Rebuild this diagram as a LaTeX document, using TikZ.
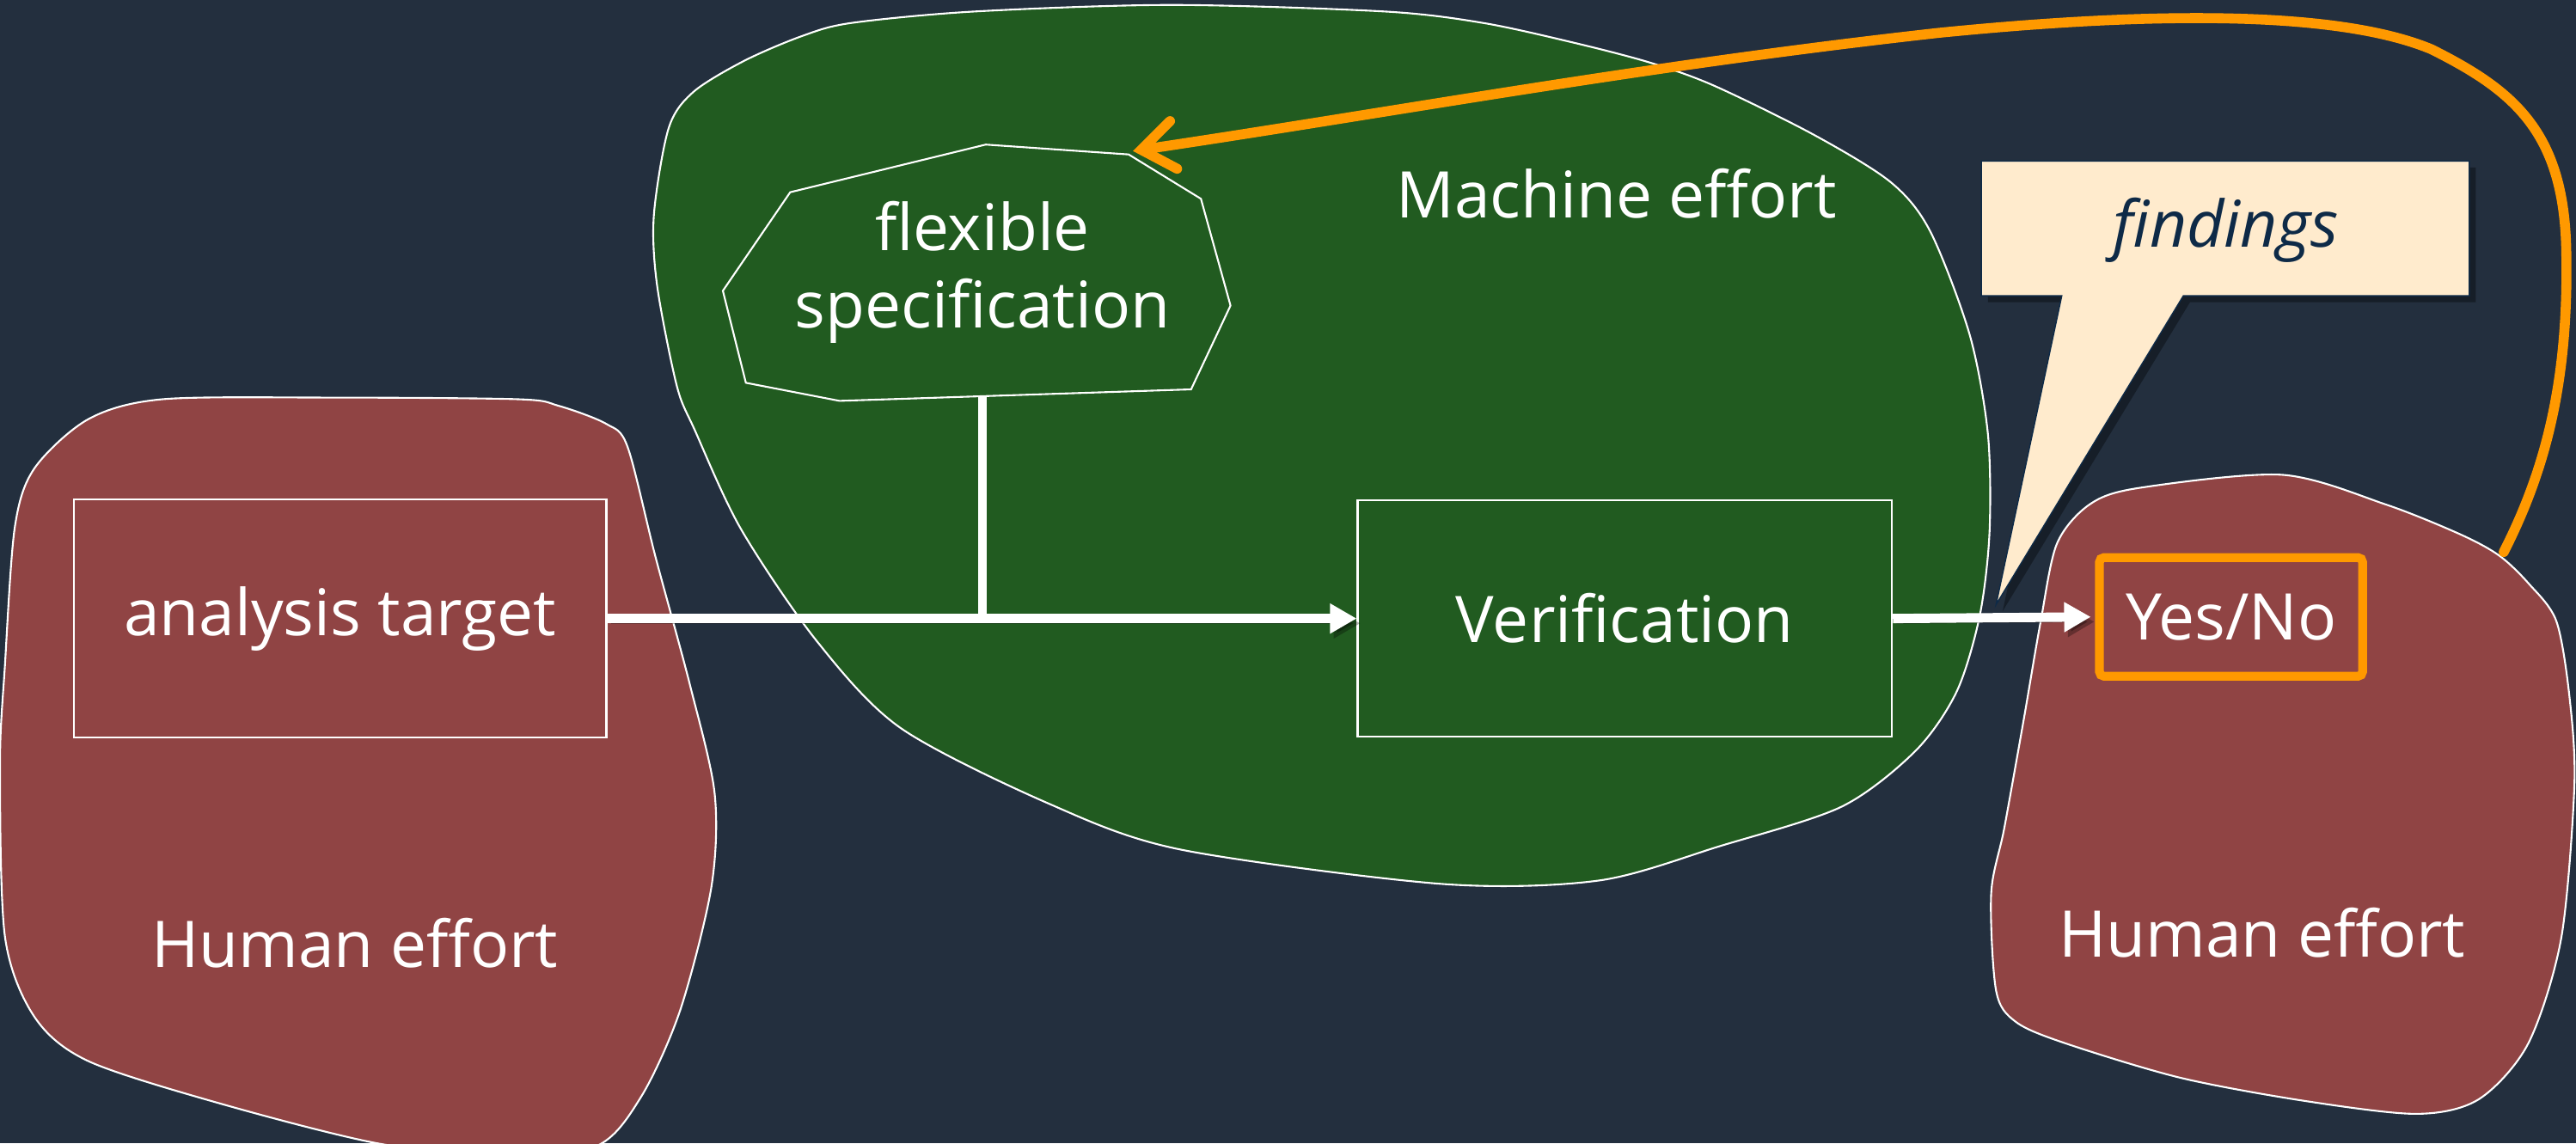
\documentclass[tikz,border=0pt]{standalone}
\usepackage{fontspec}
\setmainfont{Open Sans}
\usetikzlibrary{arrows.meta}
\definecolor{bg}{HTML}{232F3E}
\definecolor{mgreen}{HTML}{215B20}
\definecolor{hred}{HTML}{904444}
\definecolor{callfill}{HTML}{FFEBCD}
\definecolor{callink}{HTML}{0E2A47}
\definecolor{aorange}{HTML}{FF9900}
\begin{document}
\begin{tikzpicture}[x=0.01911cm,y=-0.01911cm,
  blob/.style={draw=white, line width=0.6pt, line join=round},
  boxnode/.style={draw=white, line width=0.7pt, text=white, font=\fontsize{21.3}{25.6}\selectfont, inner sep=0pt},
  lbl/.style={text=white, font=\fontsize{21.3}{25.6}\selectfont, inner sep=0pt},
  conn/.style={draw=white, line width=3.1pt, preaction={draw=black, opacity=0.3, transform canvas={shift={(1.2pt,-1.6pt)}}}},
  flow/.style={conn, -{Triangle[length=0.31cm,width=0.33cm]}},
  fb/.style={draw=aorange, line width=3.3pt, line cap=round, -{Straight Barb[length=0.38cm,width=0.56cm,line cap=round]}}
]
\useasboundingbox (0,0) rectangle (1568,696);
\clip (0,0) rectangle (1568,696);
\fill[bg] (0,0) rectangle (1568,696);

% blobs
\draw[blob, fill=hred] plot[smooth cycle, tension=0.5] coordinates {
 (99,243) (200,242) (315,243) (340,247) (369,258) (382,272) (399,339) (420,417)
 (435,483) (433,540) (414,615) (390,668) (362,698) (300,702) (230,696) (135,672)
 (54,646) (21,619) (3,570) (0,465) (3,405) (9,321) (21,285) (54,255)};

\draw[blob, fill=mgreen] plot[smooth cycle, tension=0.5] coordinates {
 (593,7) (713,3) (843,7) (903,14) (958,26) (1004,38) (1043,52) (1104,82) (1151,111)
 (1175,141) (1199,204) (1210,264) (1211,324) (1205,375) (1191,421) (1166,457)
 (1121,491) (1047,515) (973,536) (877,538) (718,517) (638,489) (548,443) (497,390)
 (451,322) (423,262) (412,235) (400,174) (398,131) (407,78) (422,56) (453,37) (488,22) (518,14)};

\draw[blob, fill=hred] plot[smooth cycle, tension=0.5] coordinates {
 (1389,289) (1452,307) (1497,325) (1521,338) (1539,355) (1556,378) (1564,424)
 (1567,478) (1559,571) (1539,635) (1509,669) (1471,678) (1402,670) (1327,656)
 (1257,635) (1227,622) (1215,603) (1212,544) (1220,504) (1232,437) (1242,379)
 (1252,331) (1272,307) (1302,297)};

% callout
\fill[black, opacity=0.35] (1210,102) -- (1507,102) -- (1507,184) -- (1333,184) -- (1219,372) -- (1259,184) -- (1210,184) -- cycle;
\draw[fill=callfill, draw=callink, line width=0.4pt, line join=miter]
  (1206,98) -- (1503,98) -- (1503,180) -- (1329,180) -- (1215,368) -- (1255,180) -- (1206,180) -- cycle;
\node[text=callink, font=\fontsize{21.3}{25.6}\selectfont\itshape, inner sep=0pt] (findings) at (1355,140) {findings};

% region labels
\node[lbl] (machine) at (984,118) {Machine effort};
\node[lbl] (humanL) at (216,574) {Human effort};
\node[lbl] (humanR) at (1377,568) {Human effort};

% flexible specification octagon
\draw[white, line width=0.6pt, line join=miter]
  (600,88) -- (687,94) coordinate (spectr) -- (731,121) -- (749,186) -- (725,237)
  -- (511,244) -- (454,233) -- (440,177) -- (481,117) -- cycle;
\node[lbl, align=center] (spec) at (598,166) {flexible\\specification};
\coordinate (specbot) at (598,241);

% boxes
\node[boxnode, minimum width=6.19cm, minimum height=2.77cm] (target) at (207,376.5) {analysis target};
\node[boxnode, minimum width=6.21cm, minimum height=2.75cm] (verif) at (989,376.5) {Verification};
\node[draw=aorange, line width=2.9pt, rounded corners=1.5pt, text=white,
  font=\fontsize{21.3}{25.6}\selectfont, inner sep=0pt,
  minimum width=3.06cm, minimum height=1.38cm] (yn) at (1358,375.5) {Yes/No};

% connectors
\coordinate (junc) at (598,376.5);
\draw[conn] (specbot) -- (junc);
\draw[flow] (target.east) -- (verif.west);
\draw[flow, shorten >=1.4pt] (verif.east) -- (yn.west);

% feedback
\coordinate (fbstart) at (1524,336);
\draw[fb] (fbstart) .. controls (1550,285) and (1564,230) .. (1562,150)
  .. controls (1560,80) and (1530,55) .. (1480,30)
  .. controls (1420,5) and (1300,8) .. (1180,20)
  .. controls (1000,40) and (850,68) .. ([xshift=0.05cm,yshift=0.04cm]spectr);
\end{tikzpicture}
\end{document}
